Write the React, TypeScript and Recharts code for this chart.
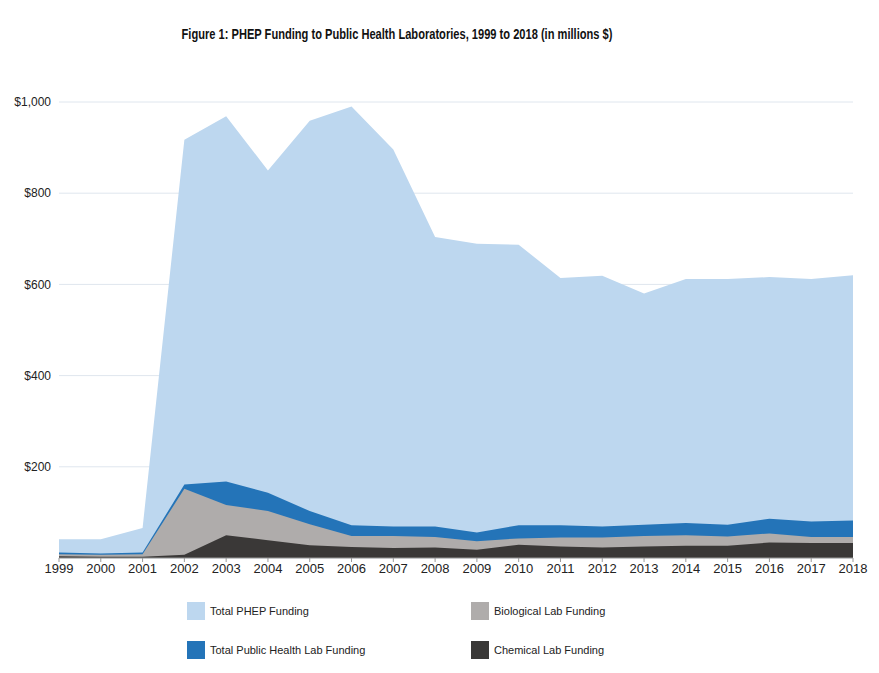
import { AreaChart, Area, XAxis, YAxis, CartesianGrid } from 'recharts'

// PHEP funding by year, in millions of dollars
const years = ['1999', '2000', '2001', '2002', '2003', '2004', '2005', '2006', '2007', '2008',
  '2009', '2010', '2011', '2012', '2013', '2014', '2015', '2016', '2017', '2018']
const totalPhep = [41, 41, 66, 917, 969, 850, 959, 990, 896, 704, 689, 687, 614, 619, 580, 612, 612, 616, 612, 620]
const totalLab = [12, 10, 12, 161, 168, 143, 103, 72, 69, 69, 56, 72, 72, 69, 73, 77, 73, 86, 80, 82]
const biological = [8, 7, 8, 152, 116, 103, 74, 48, 48, 46, 37, 43, 45, 45, 48, 50, 47, 54, 46, 46]
const chemical = [4, 3, 3, 7, 50, 39, 28, 24, 22, 23, 18, 29, 25, 23, 25, 27, 27, 34, 33, 33]
const yTicks = [200, 400, 600, 800, 1000]

const data = years.map((year, i) => ({
  year,
  phep: totalPhep[i],
  lab: totalLab[i],
  bio: biological[i],
  chem: chemical[i],
}))

const series = [
  { key: 'phep', name: 'Total PHEP Funding', color: '#bdd7ef' },
  { key: 'lab', name: 'Total Public Health Lab Funding', color: '#2474b8' },
  { key: 'bio', name: 'Biological Lab Funding', color: '#afacab' },
  { key: 'chem', name: 'Chemical Lab Funding', color: '#3a3837' },
]

const font = '"Liberation Sans", Arial, sans-serif'

const legendPos = [
  { key: 'phep', x: 187, y: 602 },
  { key: 'bio', x: 471, y: 602 },
  { key: 'lab', x: 187, y: 641 },
  { key: 'chem', x: 471, y: 641 },
]

export default function App() {
  return (
    <div style={{ position: 'absolute', left: 0, top: 0, width: 879, height: 673, background: '#fff', fontFamily: font }}>
      {/* condensed bold heading */}
      <div
        style={{
          position: 'absolute',
          top: 25,
          left: 0,
          width: 794,
          textAlign: 'center',
          fontSize: 15,
          fontWeight: 'bold',
          color: '#111',
          whiteSpace: 'nowrap',
          transform: 'scaleX(0.74)',
          transformOrigin: '397px 0',
        }}
      >
        Figure 1: PHEP Funding to Public Health Laboratories, 1999 to 2018 (in millions $)
      </div>
      <AreaChart width={879} height={673} data={data} margin={{ top: 102, right: 26, bottom: 93, left: 0 }}>
        <CartesianGrid vertical={false} stroke="#dfe6ee" />
        <XAxis
          dataKey="year"
          stroke="#999"
          tickSize={4}
          tick={{ fill: '#222', fontSize: 13, fontFamily: font }}
          height={22}
        />
        <YAxis
          width={59}
          domain={[0, 1000]}
          ticks={yTicks}
          axisLine={false}
          tickLine={false}
          tickFormatter={(v: number) => `$${v.toLocaleString('en-US')}`}
          tick={{ fill: '#222', fontSize: 12, fontFamily: font }}
        />
        <Area type="linear" dataKey="phep" stroke="none" fill="#bdd7ef" fillOpacity={1} isAnimationActive={false} />
        <Area type="linear" dataKey="lab" stroke="none" fill="#2474b8" fillOpacity={1} isAnimationActive={false} />
        <Area type="linear" dataKey="bio" stroke="none" fill="#afacab" fillOpacity={1} isAnimationActive={false} />
        <Area type="linear" dataKey="chem" stroke="none" fill="#3a3837" fillOpacity={1} isAnimationActive={false} />
      </AreaChart>
      {legendPos.map((p) => {
        const s = series.find((item) => item.key === p.key)!
        return (
          <div key={p.key} style={{ position: 'absolute', left: p.x, top: p.y, display: 'flex', alignItems: 'center' }}>
            <span style={{ display: 'inline-block', width: 18, height: 18, background: s.color }} />
            <span style={{ marginLeft: 5, fontSize: 11, color: '#222' }}>{s.name}</span>
          </div>
        )
      })}
    </div>
  )
}
